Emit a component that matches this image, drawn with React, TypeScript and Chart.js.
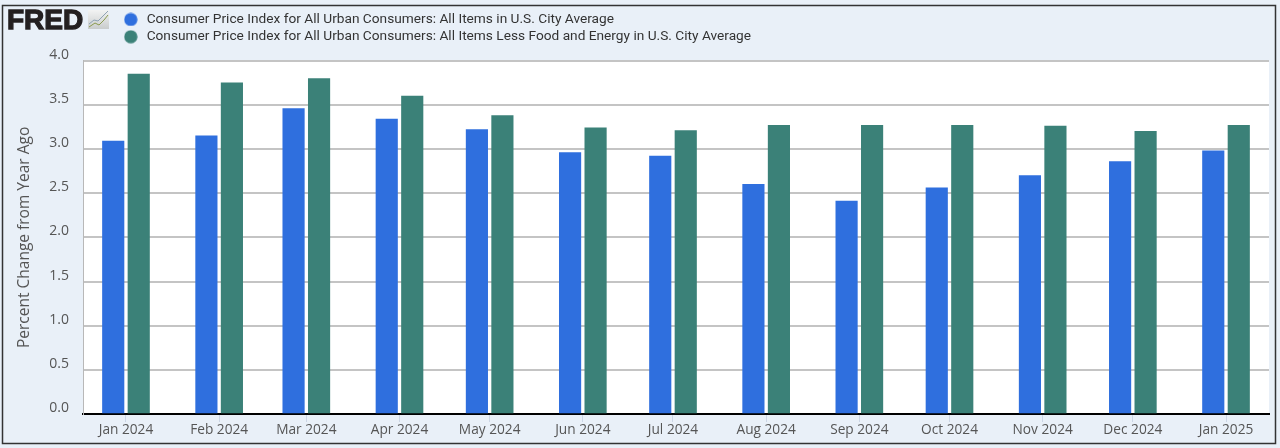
import React, { useEffect, useRef } from "react";
import { Chart, registerables } from "chart.js";

Chart.register(...registerables);

const monthStarts = ["2024-01-01","2024-02-01","2024-03-01","2024-04-01","2024-05-01","2024-06-01","2024-07-01","2024-08-01","2024-09-01","2024-10-01","2024-11-01","2024-12-01","2025-01-01"];
const monthLabels = ["Jan 2024","Feb 2024","Mar 2024","Apr 2024","May 2024","Jun 2024","Jul 2024","Aug 2024","Sep 2024","Oct 2024","Nov 2024","Dec 2024","Jan 2025"];
const allItems = [3.09,3.15,3.46,3.34,3.22,2.96,2.92,2.60,2.41,2.56,2.70,2.86,2.98];
const coreItems = [3.85,3.75,3.80,3.60,3.38,3.24,3.21,3.27,3.27,3.27,3.26,3.20,3.27];
const seriesNames = [
  "Consumer Price Index for All Urban Consumers: All Items in U.S. City Average",
  "Consumer Price Index for All Urban Consumers: All Items Less Food and Energy in U.S. City Average",
];
const yTicks = [0,0.5,1,1.5,2,2.5,3,3.5,4];

const DAY = 86400000;
const times = monthStarts.map((d) => Date.parse(d + "T00:00:00Z"));
const PANEL = "#e9f0f8";

function dot(color: string) {
  const c = document.createElement("canvas");
  c.width = 14;
  c.height = 14;
  const g = c.getContext("2d") as CanvasRenderingContext2D;
  g.fillStyle = color;
  g.beginPath();
  g.arc(7, 7, 6.6, 0, Math.PI * 2);
  g.fill();
  return c;
}

const framePlugin = {
  id: "frame",
  beforeDraw(chart: any) {
    const { ctx, width, height, chartArea: a } = chart;
    ctx.save();
    ctx.fillStyle = PANEL;
    ctx.fillRect(0, 0, width, height);
    ctx.fillStyle = "#ffffff";
    ctx.fillRect(a.left, a.top, a.right - a.left, a.bottom - a.top);
    ctx.strokeStyle = "#333333";
    ctx.lineWidth = 1.5;
    ctx.strokeRect(2.5, 5.5, 1273, 438);
    ctx.fillStyle = "#231f20";
    ctx.font = "900 28px 'Liberation Sans'";
    ctx.textBaseline = "alphabetic";
    ctx.lineWidth = 1.3;
    ctx.strokeStyle = "#231f20";
    ctx.fillText("FRED", 7, 29);
    ctx.strokeText("FRED", 7, 29);
    const g = ctx.createLinearGradient(0, 10, 0, 29);
    g.addColorStop(0, "#f2f3f3");
    g.addColorStop(1, "#c9cccc");
    ctx.fillStyle = g;
    ctx.fillRect(88, 10, 21, 19);
    ctx.lineWidth = 1;
    ctx.strokeStyle = "#8fa3b5";
    ctx.beginPath();
    ctx.moveTo(89, 24); ctx.lineTo(94, 20); ctx.lineTo(98, 21); ctx.lineTo(103, 16); ctx.lineTo(108, 11);
    ctx.stroke();
    ctx.strokeStyle = "#8a9a4e";
    ctx.beginPath();
    ctx.moveTo(89, 27); ctx.lineTo(95, 23); ctx.lineTo(99, 25); ctx.lineTo(104, 20); ctx.lineTo(108, 15);
    ctx.stroke();
    ctx.restore();
    if (chart.legend) {
      chart.legend.left = 118.2;
      chart.legend.right = 1000;
      chart.legend.top = 9;
    }
  },
};

export default function App() {
  const ref = useRef<HTMLCanvasElement>(null);
  useEffect(() => {
    const chart = new Chart(ref.current as HTMLCanvasElement, {
      type: "bar",
      data: {
        datasets: [
          {
            label: seriesNames[0],
            data: times.map((x, i) => ({ x, y: allItems[i] })),
            backgroundColor: "#2f6fde",
            borderWidth: 0,
            barThickness: 25.5,
            maxBarThickness: 21.5,
          },
          {
            label: seriesNames[1],
            data: times.map((x, i) => ({ x, y: coreItems[i] })),
            backgroundColor: "#3b8178",
            borderWidth: 0,
            barThickness: 25.5,
            maxBarThickness: 21.5,
          },
        ],
      } as any,
      options: {
        responsive: false,
        animation: false,
        devicePixelRatio: 1,
        layout: { padding: { top: 33.5, right: 11, bottom: 0, left: 0 } },
        plugins: {
          tooltip: { enabled: false },
          legend: {
            display: true,
            position: "top",
            align: "start",
            maxWidth: 900,
            labels: {
              usePointStyle: true,
              pointStyleWidth: 18,
              boxHeight: 9.2,
              padding: 3.6,
              color: "#333333",
              font: { family: "Roboto", size: 13.7 },
              generateLabels(c: any) {
                return (Chart.defaults.plugins.legend.labels as any).generateLabels(c).map((item: any) => ({
                  ...item,
                  pointStyle: dot(item.fillStyle),
                }));
              },
            },
          },
        },
        scales: {
          x: {
            type: "linear",
            offset: false,
            min: times[0] - 14.3 * DAY,
            max: times[12] + 14.3 * DAY,
            afterBuildTicks(s: any) {
              s.ticks = times.map((value) => ({ value }));
            },
            afterFit(s: any) {
              s.height = 34;
            },
            grid: { offset: false, drawOnChartArea: false, drawTicks: true, tickLength: 8, color: "#ccd6e6" },
            border: { display: true, color: "#000000", width: 2 },
            ticks: {
              autoSkip: false,
              maxRotation: 0,
              padding: 0,
              color: "#555555",
              font: { family: "Open Sans", size: 13.7 },
              callback: (v: any) => monthLabels[times.indexOf(v)],
            },
          },
          y: {
            min: 0,
            max: 4,
            afterBuildTicks(s: any) {
              s.ticks = yTicks.map((value) => ({ value }));
            },
            afterFit(s: any) {
              s.width = 83;
            },
            title: {
              display: true,
              text: "Percent Change from Year Ago",
              color: "#555555",
              font: { family: "Open Sans", size: 15.5 },
              padding: { top: 15, bottom: 0 },
            },
            grid: { drawTicks: false, color: "#c4c4c4", lineWidth: 2 },
            border: { display: true, color: "#b8b8b8", width: 1 },
            ticks: {
              padding: 14,
              labelOffset: -6,
              color: "#555555",
              font: { family: "Open Sans", size: 14 },
              callback: (v: any) => Number(v).toFixed(1),
            },
          },
        },
      } as any,
      plugins: [framePlugin],
    });
    return () => chart.destroy();
  }, []);
  return (
    <div style={{ position: "absolute", left: 0, top: 0, width: 1280, height: 448 }}>
      <canvas ref={ref} width={1280} height={448} style={{ display: "block" }} />
    </div>
  );
}
